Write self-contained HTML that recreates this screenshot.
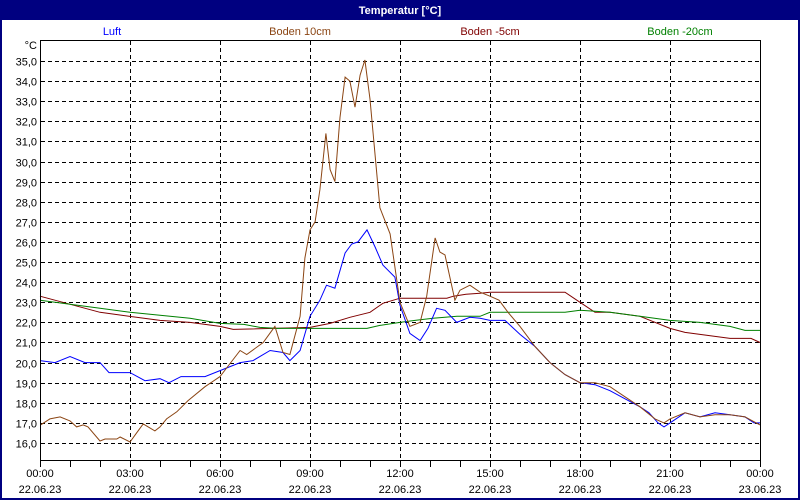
<!DOCTYPE html>
<html><head><meta charset="utf-8"><style>
html,body{margin:0;padding:0;background:#fff;}
svg{display:block;font-family:"Liberation Sans",sans-serif;}
</style></head><body>
<svg id="s" width="800" height="500" xmlns="http://www.w3.org/2000/svg">
<rect x="0" y="0" width="800" height="500" fill="#000080"/>
<rect x="2" y="20" width="796" height="478" fill="#fff"/>
<text x="400" y="14" fill="#fff" font-size="11" font-weight="bold" text-anchor="middle">Temperatur [°C]</text>
<g font-size="11" text-anchor="middle">
<text x="112" y="35" fill="#0000ff">Luft</text>
<text x="300" y="35" fill="#8b4513">Boden 10cm</text>
<text x="490" y="35" fill="#800000">Boden -5cm</text>
<text x="680" y="35" fill="#008000">Boden -20cm</text>
</g>
<text x="37" y="49" font-size="11" text-anchor="end">°C</text>
<g id="grid"></g>
<g id="series" fill="none" stroke-width="1"></g>
<rect x="40.5" y="40.5" width="720" height="420" fill="none" stroke="#000"/>
</svg>
<script>
var s=document.getElementById('grid'),NS='http://www.w3.org/2000/svg';
function el(t,a,p,txt){var e=document.createElementNS(NS,t);for(var k in a)e.setAttribute(k,a[k]);if(txt)e.textContent=txt;(p||s).appendChild(e);return e;}
function Y(v){return 61+(35-v)*20.105;}
function X(h){return 40+h*30;}
for(var v=16;v<=35;v++){var y=Math.round(Y(v))+0.5;
 el('line',{x1:41,x2:760,y1:y,y2:y,stroke:'#000','stroke-dasharray':'4,3'});
 el('text',{x:37,y:y+4,'font-size':11,'text-anchor':'end'},null,v.toFixed(1).replace('.',','));}
for(var h=3;h<24;h+=3){var x=X(h)+0.5;el('line',{x1:x,x2:x,y1:41,y2:460,stroke:'#000','stroke-dasharray':'4,3'});}
for(var h=0;h<=24;h++){var x=X(h)+0.5;el('line',{x1:x,x2:x,y1:461,y2:467,stroke:'#000'});}
var d=['22.06.23','22.06.23','22.06.23','22.06.23','22.06.23','22.06.23','22.06.23','22.06.23','23.06.23'];
for(var i=0;i<=8;i++){var x=X(i*3);var hh=(i*3)%24;
 el('text',{x:x,y:477,'font-size':11,'text-anchor':'middle'},null,(hh<10?'0':'')+hh+':00');
 el('text',{x:x,y:493,'font-size':11,'text-anchor':'middle'},null,d[i]);}
var g=document.getElementById('series');
function line(pts,c){var p=[];for(var i=0;i<pts.length;i+=2)p.push(X(pts[i]).toFixed(1)+','+Y(pts[i+1]).toFixed(1));el('polyline',{points:p.join(' '),stroke:c},g);}
line([0,23.3,2,22.5,4,22.1,5,22.0,6,21.8,6.44,21.65,9,21.75,9.67,21.95,10.33,22.25,11,22.5,11.43,22.95,12,23.2,13.56,23.2,13.78,23.3,14.2,23.4,14.67,23.45,15,23.5,17.5,23.5,18,23.0,18.5,22.5,19,22.5,20,22.3,21,21.7,21.5,21.5,22,21.4,23,21.2,23.7,21.2,24,21.0],'#800000');
line([0,23.1,1,22.9,2,22.7,3,22.5,4,22.35,5,22.2,6,21.95,6.8,21.9,7.33,21.75,7.9,21.7,10.9,21.7,11.33,21.85,12,22.0,12.5,22.1,13.1,22.2,13.9,22.3,14.67,22.3,15,22.5,17.5,22.5,18,22.6,19,22.5,20,22.3,21,22.1,22,22.0,23,21.8,23.5,21.6,24,21.6],'#008000');
line([0,20.1,0.5,20.0,1,20.3,1.5,20.0,2,20.0,2.3,19.5,3,19.5,3.5,19.1,4,19.2,4.3,19.0,4.7,19.3,5.5,19.3,6,19.6,6.67,20.0,7.1,20.1,7.67,20.6,8.1,20.5,8.33,20.1,8.67,20.6,9,22.3,9.33,23.1,9.55,23.85,9.83,23.7,10.17,25.45,10.39,25.9,10.6,26.0,10.9,26.6,11.17,25.75,11.43,24.85,11.83,24.25,12,22.85,12.33,21.45,12.67,21.1,12.93,21.7,13.22,22.7,13.5,22.6,13.89,22.0,14.33,22.25,14.67,22.2,15,22.1,15.5,22.1,16,21.4,16.5,20.8,17,20.0,17.5,19.4,18,19.0,18.5,18.9,19,18.6,19.5,18.2,20,17.8,20.3,17.5,20.6,17.0,20.8,16.8,21,17.0,21.5,17.5,22,17.3,22.5,17.5,23,17.4,23.5,17.3,23.8,17.0,24,17.0],'#0000ff');
line([0.02,16.9,0.33,17.2,0.67,17.3,1,17.1,1.22,16.8,1.44,16.9,1.6,16.8,2,16.1,2.17,16.2,2.56,16.2,2.67,16.3,3,16.05,3.22,16.5,3.44,16.95,3.83,16.6,4,16.8,4.22,17.2,4.56,17.55,4.93,18.1,5.5,18.8,6,19.3,6.22,19.73,6.67,20.6,6.89,20.4,7.44,21.0,7.83,21.8,8.1,20.5,8.33,20.4,8.67,22.3,8.83,25.2,9,26.6,9.17,27.0,9.33,28.6,9.53,31.4,9.67,29.6,9.83,29.0,10,32.2,10.17,34.2,10.33,34.0,10.5,32.7,10.67,34.3,10.83,35.05,11,33.1,11.33,27.7,11.67,26.4,12,23.0,12.33,21.8,12.67,22.0,12.89,23.3,13.17,26.2,13.33,25.5,13.5,25.35,13.83,23.1,14,23.6,14.33,23.85,14.67,23.5,15,23.3,15.3,23.1,15.6,22.5,16,21.8,16.5,20.8,17,20.0,17.5,19.4,18,19.0,18.5,19.0,19,18.8,19.5,18.3,20,17.8,20.5,17.2,20.8,17.0,21,17.2,21.5,17.5,22,17.3,22.5,17.4,23,17.4,23.5,17.3,24,16.9],'#8b4513');
</script>
</body></html>
